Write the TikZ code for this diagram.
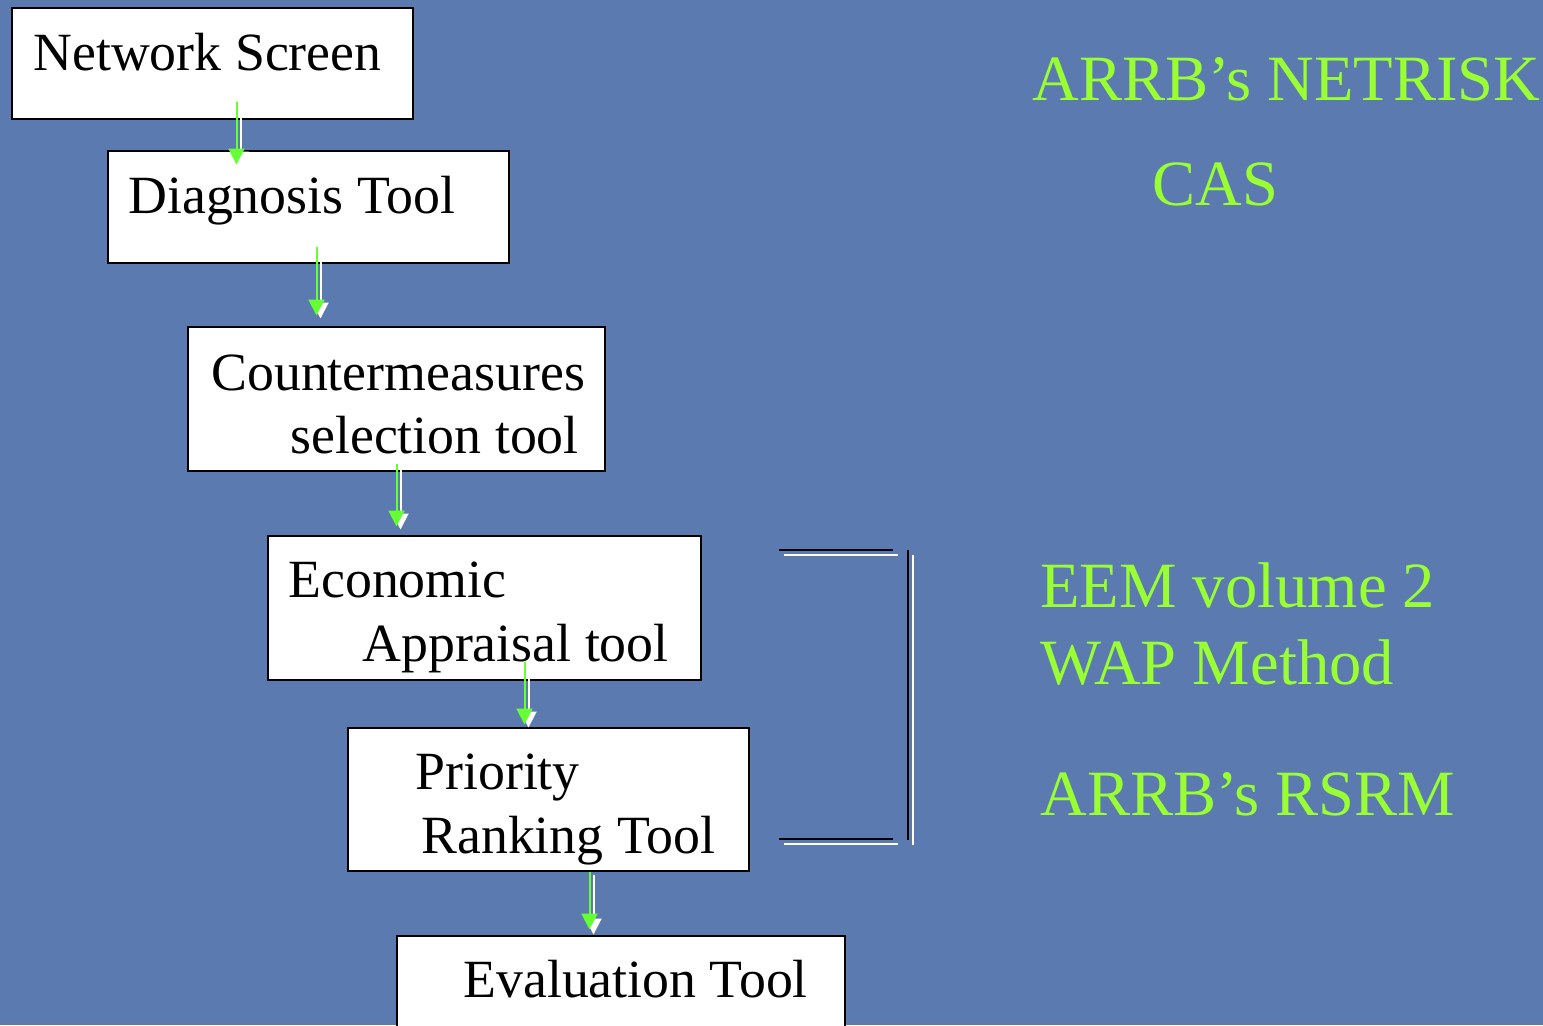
\documentclass[tikz,border=0pt]{standalone}
\usepackage{fontspec}
\setmainfont{Liberation Serif}
\usetikzlibrary{arrows.meta,calc}

\definecolor{slideblue}{RGB}{91,122,176}
\definecolor{flowgreen}{RGB}{102,255,51}
\definecolor{toolgreen}{RGB}{153,255,51}

\tikzset{
  toolbox/.style={draw=black, fill=white, line width=1pt, anchor=north west, inner sep=0pt},
  boxtext/.style={anchor=base west, inner sep=0pt, font=\fontsize{26.9}{32}\selectfont},
  sidetext/.style={anchor=base west, inner sep=0pt, text=toolgreen, font=\fontsize{32.3}{38}\selectfont},
  flow/.style={draw=flowgreen, fill=flowgreen, line width=1pt, -{Triangle[length=8pt,width=8pt]}},
  flowshade/.style={draw=white, fill=white, line width=1pt, -{Triangle[length=8pt,width=8pt]}},
  bracketline/.style={line width=1pt}
}

\begin{document}
\begin{tikzpicture}[x=0.5pt,y=-0.5pt]

    % Slide background
    \fill[slideblue] (0,0) rectangle (1543,1025);
    \useasboundingbox (0,0) rectangle (1543,1025);
    \clip (0,0) rectangle (1543,1025);

    % Boxes of the chain
    \node[toolbox, minimum width=200.5pt, minimum height=55.5pt] (screen) at (10.5,6.5) {};
    \node[toolbox, minimum width=200.5pt, minimum height=56pt] (diag) at (106.5,149.5) {};
    \node[toolbox, minimum width=208.5pt, minimum height=72pt] (counter) at (186.5,325.5) {};
    \node[toolbox, minimum width=216.5pt, minimum height=72pt] (econ) at (266.5,534.5) {};
    \node[toolbox, minimum width=200.5pt, minimum height=71.5pt] (rank) at (346.5,726.5) {};
    \node[toolbox, minimum width=224pt, minimum height=50pt] (eval) at (395.5,934.5) {};

    % Box texts
    \node[boxtext] (screentext) at (33,70) {Network Screen};
    \node[boxtext] (diagtext) at (128,213) {Diagnosis Tool};
    \node[boxtext] (countertexta) at (211,390) {Countermeasures};
    \node[boxtext] (countertextb) at (290,453) {selection tool};
    \node[boxtext] (econtexta) at (288,597) {Economic};
    \node[boxtext] (econtextb) at (362,661) {Appraisal tool};
    \node[boxtext] (ranktexta) at (415,789) {Priority};
    \node[boxtext] (ranktextb) at (421,853) {Ranking Tool};
    \node[boxtext] (evaltext) at (463,997) {Evaluation Tool};

    % Arrow start points
    \coordinate (a1) at ($(screen.south)+(24.5,-18)$);
    \coordinate (a2) at ($(diag.south)+(8.5,-17)$);
    \coordinate (a3) at ($(counter.south)+(0.5,-8)$);
    \coordinate (a4) at ($(econ.south)+(40.5,-19)$);
    \coordinate (a5) at ($(rank.south)+(41.5,0)$);

    % White shadows of the arrows
    \draw[flowshade] ($(a1)+(4,3)$) -- ($(a1 |- diag.north)+(4,18)$);
    \draw[flowshade] ($(a2)+(4,3)$) -- ($(a2 |- counter.north)+(4,-7)$);
    \draw[flowshade] ($(a3)+(4,3)$) -- ($(a3 |- econ.north)+(4,-5)$);
    \draw[flowshade] ($(a4)+(4,3)$) -- ($(a4 |- rank.north)+(4,1)$);
    \draw[flowshade] ($(a5)+(4,3)$) -- ($(a5 |- eval.north)+(4,0)$);

    % Green arrows
    \draw[flow] (a1) -- ($(a1 |- diag.north)+(0,15)$);
    \draw[flow] (a2) -- ($(a2 |- counter.north)+(0,-10)$);
    \draw[flow] (a3) -- ($(a3 |- econ.north)+(0,-8)$);
    \draw[flow] (a4) -- ($(a4 |- rank.north)+(0,-2)$);
    \draw[flow] (a5) -- ($(a5 |- eval.north)+(0,-5)$);

    % Bracket
    \draw[bracketline, black] (779,550) -- (893,550);
    \draw[bracketline, black] (779,839) -- (893,839);
    \draw[bracketline, black] (908,550) -- (908,840);
    \draw[bracketline, white] (784,555) -- (898,555);
    \draw[bracketline, white] (784,844) -- (898,844);
    \draw[bracketline, white] (913,555) -- (913,845);

    % Tool names on the right
    \node[sidetext] (netrisk) at (1032,100) {ARRB’s NETRISK};
    \node[sidetext] (cas) at (1152,205) {CAS};
    \node[sidetext] (eem) at (1040,607) {EEM volume 2};
    \node[sidetext] (wap) at (1040,684) {WAP Method};
    \node[sidetext] (rsrm) at (1040,815) {ARRB’s RSRM};

\end{tikzpicture}
\end{document}
